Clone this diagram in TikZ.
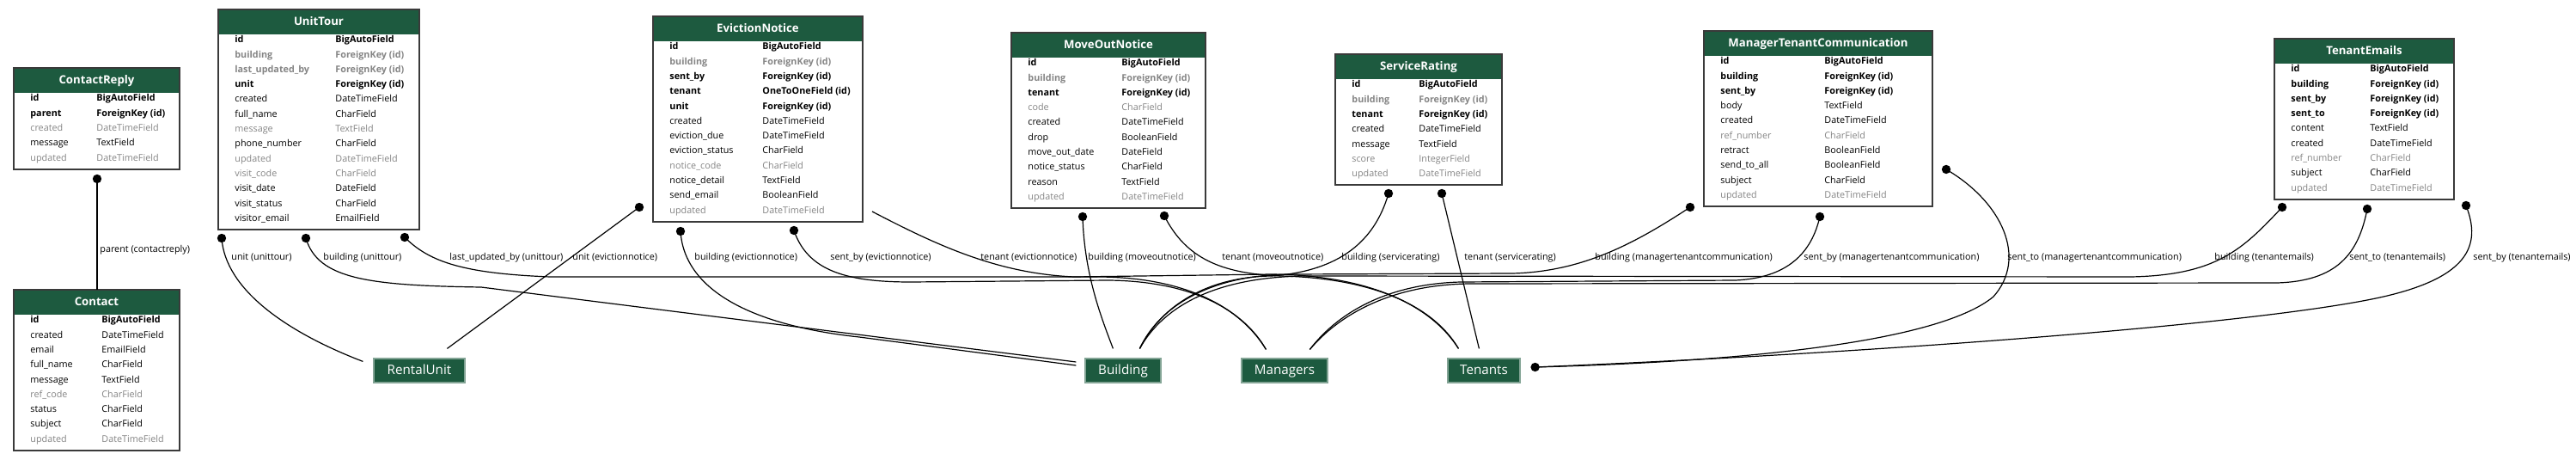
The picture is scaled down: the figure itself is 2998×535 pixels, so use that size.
\documentclass[tikz,border=0pt]{standalone}
\usepackage{fontspec}
\setmainfont{Open Sans}
\usetikzlibrary{calc}

\definecolor{hdrgreen}{HTML}{1D5A3F}
\definecolor{fldgray}{HTML}{858585}
\definecolor{rimgray}{HTML}{3A3A3A}

% row looks: key, nullable key, faded, plain
\newcommand{\fkey}{\bfseries\color{black}}
\newcommand{\fgbold}{\bfseries\color{fldgray}}
\newcommand{\fgray}{\color{fldgray}}
\newcommand{\fplain}{\color{black}}

\tikzset{
  tblrim/.style={draw=rimgray, line width=0.9pt},
  tbltitle/.style={text=white, inner sep=0, text height=5pt, text depth=1.4pt,
    font=\fontsize{6.6}{8}\selectfont\bfseries},
  fld/.style={anchor=west, inner sep=0, text height=4pt, text depth=1.2pt,
    font=\fontsize{5.4}{6.5}\selectfont},
  rel/.style={line width=0.6pt},
  rellabel/.style={anchor=west, inner sep=0, text height=4pt, text depth=1.2pt,
    font=\fontsize{5.4}{6.5}\selectfont},
  model/.style={fill=hdrgreen, draw=hdrgreen!55, line width=0.6pt, text=white,
    minimum height=14pt, inner sep=0, text height=5.6pt, text depth=1.6pt,
    font=\fontsize{7.6}{9}\selectfont},
}

% #1 name, #2 title, #3 left, #4 right, #5 top, #6 type column, #7 rows, #8 fields
\newcommand{\ertable}[8]{%
  \pgfmathsetmacro{\tbot}{#5+48.5+(#7-1)*17.3}
  \fill[hdrgreen] (#3,#5) rectangle (#4,{#5+29});
  \draw[tblrim] (#3,#5) rectangle (#4,\tbot);
  \node[tbltitle] (#1) at ({(#3+#4)/2},{#5+14.5}) {#2};
  \foreach \st/\fn/\ft [count=\i from 0] in {#8} {
    \node[fld] at ({#3+19},{#5+36+\i*17.3}) {\st\fn};
    \node[fld] at ({#3+#6},{#5+36+\i*17.3}) {\st\ft};
  }
}

\begin{document}
\begin{tikzpicture}[x=0.5pt, y=-0.5pt]
    \fill[white] (0,0) rectangle (2998,535);
    \useasboundingbox (0,0) rectangle (2998,535);

    % tables
    \ertable{contactreply}{ContactReply}{16}{209}{79}{96}{5}{%
      \fkey/id/BigAutoField, \fkey/parent/ForeignKey (id), \fgray/created/DateTimeField,
      \fplain/message/TextField, \fgray/updated/DateTimeField}
    \ertable{contact}{Contact}{16}{209}{337}{102}{9}{%
      \fkey/id/BigAutoField, \fplain/created/DateTimeField, \fplain/email/EmailField,
      \fplain/full\_name/CharField, \fplain/message/TextField, \fgray/ref\_code/CharField,
      \fplain/status/CharField, \fplain/subject/CharField, \fgray/updated/DateTimeField}
    \ertable{unittour}{UnitTour}{254}{488}{11}{136}{13}{%
      \fkey/id/BigAutoField, \fgbold/building/ForeignKey (id),
      \fgbold/last\_updated\_by/ForeignKey (id), \fkey/unit/ForeignKey (id),
      \fplain/created/DateTimeField, \fplain/full\_name/CharField, \fgray/message/TextField,
      \fplain/phone\_number/CharField, \fgray/updated/DateTimeField,
      \fgray/visit\_code/CharField, \fplain/visit\_date/DateField,
      \fplain/visit\_status/CharField, \fplain/visitor\_email/EmailField}
    \ertable{evictionnotice}{EvictionNotice}{760}{1004}{19}{127}{12}{%
      \fkey/id/BigAutoField, \fgbold/building/ForeignKey (id), \fkey/sent\_by/ForeignKey (id),
      \fkey/tenant/OneToOneField (id), \fkey/unit/ForeignKey (id),
      \fplain/created/DateTimeField, \fplain/eviction\_due/DateTimeField,
      \fplain/eviction\_status/CharField, \fgray/notice\_code/CharField,
      \fplain/notice\_detail/TextField, \fplain/send\_email/BooleanField,
      \fgray/updated/DateTimeField}
    \ertable{moveoutnotice}{MoveOutNotice}{1177}{1403}{38}{128}{10}{%
      \fkey/id/BigAutoField, \fgbold/building/ForeignKey (id), \fkey/tenant/ForeignKey (id),
      \fgray/code/CharField, \fplain/created/DateTimeField, \fplain/drop/BooleanField,
      \fplain/move\_out\_date/DateField, \fplain/notice\_status/CharField,
      \fplain/reason/TextField, \fgray/updated/DateTimeField}
    \ertable{servicerating}{ServiceRating}{1554}{1748}{63}{97}{7}{%
      \fkey/id/BigAutoField, \fgbold/building/ForeignKey (id), \fkey/tenant/ForeignKey (id),
      \fplain/created/DateTimeField, \fplain/message/TextField,
      \fgray/score/IntegerField, \fgray/updated/DateTimeField}
    \ertable{mtcomm}{ManagerTenantCommunication}{1983}{2249}{36}{140}{10}{%
      \fkey/id/BigAutoField, \fkey/building/ForeignKey (id), \fkey/sent\_by/ForeignKey (id),
      \fplain/body/TextField, \fplain/created/DateTimeField, \fgray/ref\_number/CharField,
      \fplain/retract/BooleanField, \fplain/send\_to\_all/BooleanField,
      \fplain/subject/CharField, \fgray/updated/DateTimeField}
    \ertable{tenantemails}{TenantEmails}{2647}{2856}{45}{111}{9}{%
      \fkey/id/BigAutoField, \fkey/building/ForeignKey (id), \fkey/sent\_by/ForeignKey (id),
      \fkey/sent\_to/ForeignKey (id), \fplain/content/TextField,
      \fplain/created/DateTimeField, \fgray/ref\_number/CharField,
      \fplain/subject/CharField, \fgray/updated/DateTimeField}

    % related models
    \node[model, minimum width=53pt] (rentalunit) at (488,431) {RentalUnit};
    \node[model, minimum width=44pt] (building) at (1307,431) {Building};
    \node[model, minimum width=50pt] (managers) at (1495,431) {Managers};
    \node[model, minimum width=42pt] (tenants) at (1727,431) {Tenants};

    % tails on the tables
    \coordinate (cr-parent) at (113,208);
    \coordinate (ut-unit) at (258,277);
    \coordinate (ut-bld) at (356,277);
    \coordinate (ut-upd) at (471,276);
    \coordinate (en-unit) at (744,241);
    \coordinate (en-bld) at (792,269);
    \coordinate (en-sent) at (924,268);
    \coordinate (en-ten) at (1015,246);
    \coordinate (mo-bld) at (1260,252);
    \coordinate (mo-ten) at (1355,251);
    \coordinate (sr-bld) at (1616,225);
    \coordinate (sr-ten) at (1678,225);
    \coordinate (mt-bld) at (1967,241);
    \coordinate (mt-sent) at (2118,252);
    \coordinate (mt-to) at (2265,197);
    \coordinate (te-bld) at (2656,241);
    \coordinate (te-to) at (2755,243);
    \coordinate (te-sent) at (2870,239);

    % heads near the related models
    \coordinate (ct-top) at (113,337);
    \coordinate (ru-l) at ($(rentalunit.north west)+(-12,4)$);
    \coordinate (ru-r) at ($(rentalunit.north west)+(86,-11)$);
    \coordinate (bd-w1) at ($(building.west)+(-10,-10)$);
    \coordinate (bd-w2) at ($(building.west)+(-10,-6)$);
    \coordinate (bd-n1) at ($(building.north west)+(33,-11)$);
    \coordinate (bd-n2) at ($(building.north west)+(64,-11)$);
    \coordinate (mg-n1) at ($(managers.north west)+(29,-10)$);
    \coordinate (mg-n2) at ($(managers.north west)+(80,-10)$);
    \coordinate (tn-n1) at ($(tenants.north west)+(13,-11)$);
    \coordinate (tn-n2) at ($(tenants.north west)+(37,-11)$);
    \coordinate (tn-e) at ($(tenants.east)+(17,-4)$);

    \draw[rel] (cr-parent) -- (ct-top);
    \draw[rel] (ut-unit) .. controls (262,335) and (330,385) .. (ru-l);
    \draw[rel] (ut-bld) .. controls (370,325) and (430,332) .. (560,334) -- (bd-w1);
    \draw[rel] (ut-upd) .. controls (500,305) and (540,318) .. (640,322) -- (1280,322)
        .. controls (1385,323) and (1445,360) .. (mg-n1);
    \draw[rel] (en-unit) -- (ru-r);
    \draw[rel] (en-bld) .. controls (796,335) and (870,378) .. (1000,392) -- (bd-w2);
    \draw[rel] (en-sent) .. controls (940,315) and (985,328) .. (1060,328) -- (1290,326)
        .. controls (1390,327) and (1448,362) .. (mg-n1);
    \draw[rel] (en-ten) .. controls (1090,285) and (1160,318) .. (1250,322) -- (1480,319)
        .. controls (1585,320) and (1662,350) .. (tn-n1);
    \draw[rel] (mo-bld) .. controls (1262,320) and (1282,370) .. (bd-n1);
    \draw[rel] (mo-ten) .. controls (1380,300) and (1420,318) .. (1490,321)
        .. controls (1590,323) and (1666,352) .. (tn-n1);
    \draw[rel] (sr-bld) .. controls (1600,280) and (1560,315) .. (1480,321)
        .. controls (1405,322) and (1352,355) .. (bd-n2);
    \draw[rel] (sr-ten) -- (tn-n2);
    \draw[rel] (mt-bld) .. controls (1900,285) and (1840,316) .. (1760,318) -- (1500,319)
        .. controls (1410,320) and (1350,355) .. (bd-n2);
    \draw[rel] (mt-sent) .. controls (2108,295) and (2080,323) .. (2020,326) -- (1700,328)
        .. controls (1620,330) and (1560,360) .. (mg-n2);
    \draw[rel] (mt-to) .. controls (2330,235) and (2360,300) .. (2320,345)
        .. controls (2260,395) and (2050,420) .. (tn-e);
    \draw[rel] (te-bld) .. controls (2610,290) and (2580,320) .. (2480,322) -- (1520,321)
        .. controls (1415,322) and (1354,356) .. (bd-n2);
    \draw[rel] (te-to) .. controls (2745,295) and (2720,327) .. (2650,329) -- (1710,330)
        .. controls (1625,331) and (1562,362) .. (mg-n2);
    \draw[rel] (te-sent) .. controls (2888,285) and (2875,325) .. (2760,348)
        .. controls (2600,380) and (2150,412) .. (tn-e);

    \foreach \d in {cr-parent, ut-unit, ut-bld, ut-upd, en-unit, en-bld, en-sent,
        mo-bld, mo-ten, sr-bld, sr-ten, mt-bld, mt-sent, mt-to, te-bld, te-to, te-sent, tn-e}
      \fill (\d) circle[radius=2.6pt];

    % relation labels
    \node[rellabel] (lb-parent) at (116,291) {parent (contactreply)};
    \node[rellabel] (lb-utunit) at (269,300) {unit (unittour)};
    \node[rellabel] (lb-utbld) at (376,300) {building (unittour)};
    \node[rellabel] (lb-utupd) at (523,300) {last\_updated\_by (unittour)};
    \node[rellabel] (lb-enunit) at (666,300) {unit (evictionnotice)};
    \node[rellabel] (lb-enbld) at (808,300) {building (evictionnotice)};
    \node[rellabel] (lb-ensent) at (966,300) {sent\_by (evictionnotice)};
    \node[rellabel] (lb-enten) at (1141,300) {tenant (evictionnotice)};
    \node[rellabel] (lb-mobld) at (1266,300) {building (moveoutnotice)};
    \node[rellabel] (lb-moten) at (1422,300) {tenant (moveoutnotice)};
    \node[rellabel] (lb-srbld) at (1561,300) {building (servicerating)};
    \node[rellabel] (lb-srten) at (1704,300) {tenant (servicerating)};
    \node[rellabel] (lb-mtbld) at (1856,300) {building (managertenantcommunication)};
    \node[rellabel] (lb-mtsent) at (2099,300) {sent\_by (managertenantcommunication)};
    \node[rellabel] (lb-mtto) at (2336,300) {sent\_to (managertenantcommunication)};
    \node[rellabel] (lb-tebld) at (2577,300) {building (tenantemails)};
    \node[rellabel] (lb-teto) at (2734,300) {sent\_to (tenantemails)};
    \node[rellabel] (lb-tesent) at (2878,300) {sent\_by (tenantemails)};
\end{tikzpicture}
\end{document}
